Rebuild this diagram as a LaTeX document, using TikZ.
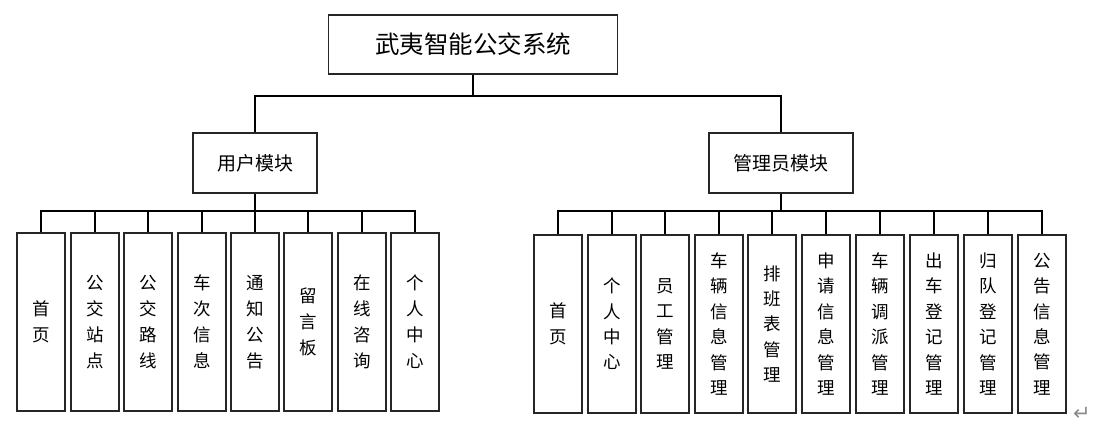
\documentclass[tikz,border=0pt]{standalone}
\usepackage{fontspec}
\setmainfont{Noto Sans CJK SC}
\newfontfamily\symfont{DejaVu Sans}
\begin{document}
\begin{tikzpicture}[x=1pt,y=-1pt,
  box/.style={draw=black!85,line width=1.4pt,fill=white,inner sep=0pt,align=center},
  leaf/.style={box,minimum width=48pt,minimum height=178pt,text width=20pt,
    font=\fontsize{17.5}{26}\selectfont},
  conn/.style={draw=black,line width=1.4pt}]
\useasboundingbox (0,0) rectangle (1103,434);
% top
\node[box,minimum width=289pt,minimum height=59pt,font=\fontsize{24.5}{28}\selectfont] (top) at (473,44.5) {武夷智能公交系统};
\node[box,minimum width=124pt,minimum height=60pt,font=\fontsize{19}{22}\selectfont] (um) at (255,163) {用户模块};
\node[box,minimum width=144pt,minimum height=60pt,font=\fontsize{19}{22}\selectfont] (am) at (781,163) {管理员模块};
\coordinate (tbus) at (473,96);
\coordinate (bus) at (0,211);
\draw[conn] (top.south) -- (tbus);
\draw[conn] (um.north) -- (um.north |- tbus) -- (am.north |- tbus) -- (am.north);
% user leaves
\foreach \t/\x [count=\i from 0] in {首\\页/41,公\\交\\站\\点/95,公\\交\\路\\线/148,车\\次\\信\\息/202,通\\知\\公\\告/255,留\\言\\板/308,在\\线\\咨\\询/362,个\\人\\中\\心/415}{
  \node[leaf] (u\i) at (\x,322) {\t};
}
\foreach \t/\x [count=\i from 0] in {首\\页/558,个\\人\\中\\心/612,员\\工\\管\\理/665,车\\辆\\信\\息\\管\\理/719,排\\班\\表\\管\\理/772,申\\请\\信\\息\\管\\理/826,车\\辆\\调\\派\\管\\理/880,出\\车\\登\\记\\管\\理/934,归\\队\\登\\记\\管\\理/988,公\\告\\信\\息\\管\\理/1042}{
  \node[leaf,font=\fontsize{17.5}{25.4}\selectfont] (a\i) at (\x,324) {\t};
}
\draw[conn] (um.south) -- (um.south |- bus);
\draw[conn] (u0.north) -- (u0.north |- bus) -- (u7.north |- bus) -- (u7.north);
\foreach \i in {1,...,6}{\draw[conn] (u\i.north) -- (u\i.north |- bus);}
\draw[conn] (am.south) -- (am.south |- bus);
\draw[conn] (a0.north) -- (a0.north |- bus) -- (a9.north |- bus) -- (a9.north);
\foreach \i in {1,...,8}{\draw[conn] (a\i.north) -- (a\i.north |- bus);}
\node[font=\symfont\fontsize{21}{21}\selectfont,text=black!45,inner sep=0pt] (ret) at (1082,414) {↵};
\end{tikzpicture}
\end{document}
